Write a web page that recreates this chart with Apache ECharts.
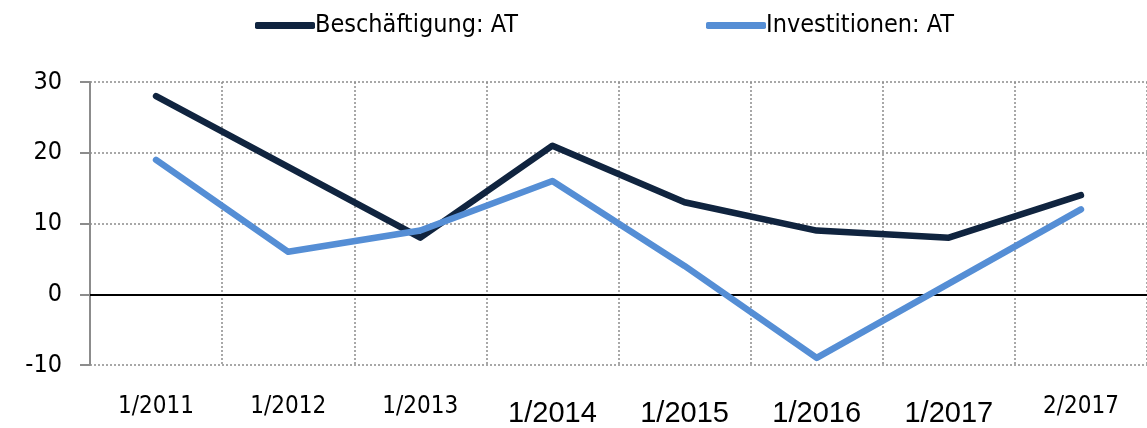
<!DOCTYPE html>
<html>
<head>
<meta charset="utf-8">
<script src="https://cdn.jsdelivr.net/npm/echarts@6/dist/echarts.min.js"></script>
<style>html,body{margin:0;padding:0;background:#fff}#c{width:1147px;height:428px}</style>
</head>
<body>
<div id="c"></div>
<script>
const categories = ['1/2011','1/2012','1/2013','1/2014','1/2015','1/2016','1/2017','2/2017'];
const largeLabels = ['1/2014','1/2015','1/2016','1/2017'];
const beschaeftigung = [28, 18, 8, 21, 13, 9, 8, 14];
const investitionen = [19, 6, 9, 16, 4, -9, 1.5, 12];
const seriesNames = ['Beschäftigung: AT', 'Investitionen: AT'];
const seriesColors = ['#10243f', '#558ed5'];

const NARROW = "'Liberation Sans Narrow','DejaVu Sans Condensed','Liberation Sans',sans-serif";
const REG = "'Liberation Sans',Arial,sans-serif";

function legendFor(i, left) {
  return {
    left: left, top: 8,
    itemWidth: 60, itemHeight: 7, itemGap: 0,
    icon: 'roundRect',
    textStyle: {fontFamily: NARROW, fontSize: 25, color: '#000', padding: [0,0,0,-5]},
    data: [seriesNames[i]]
  };
}

const chart = echarts.init(document.getElementById('c'), null, {renderer: 'canvas'});
chart.setOption({
  animation: false,
  backgroundColor: '#ffffff',
  legend: [legendFor(0, 250), legendFor(1, 701)],
  grid: {left: 90, right: -3, top: 82, bottom: 63, containLabel: false},
  xAxis: {
    type: 'category',
    data: categories,
    boundaryGap: true,
    axisLine: {onZero: true, lineStyle: {color: '#000', width: 2}},
    axisTick: {show: false},
    splitLine: {show: true, lineStyle: {color: '#8c8c8c', type: [2, 2], width: 1.5}},
    axisLabel: {
      interval: 0,
      margin: 30,
      formatter: function (v) { return largeLabels.indexOf(v) >= 0 ? '{b|' + v + '}' : '{n|' + v + '}'; },
      rich: {
        n: {fontFamily: NARROW, fontSize: 24, color: '#000'},
        b: {fontFamily: REG, fontSize: 29, color: '#000', padding: [4,0,0,0]}
      }
    }
  },
  yAxis: {
    type: 'value',
    min: -10, max: 30, interval: 10,
    axisLine: {show: true, lineStyle: {color: '#8c8c8c', width: 2}},
    axisTick: {show: true, length: 10, lineStyle: {color: '#8c8c8c', width: 2}},
    splitLine: {show: true, lineStyle: {color: '#8c8c8c', type: [2, 2], width: 1.5}},
    axisLabel: {fontFamily: NARROW, fontSize: 25, color: '#000', margin: 28}
  },
  series: [
    {name: seriesNames[0], type: 'line', data: beschaeftigung, symbol: 'none',
     lineStyle: {color: seriesColors[0], width: 6.5, cap: 'round', join: 'round'}, itemStyle: {color: seriesColors[0]}},
    {name: seriesNames[1], type: 'line', data: investitionen, symbol: 'none',
     lineStyle: {color: seriesColors[1], width: 6.5, cap: 'round', join: 'round'}, itemStyle: {color: seriesColors[1]}}
  ]
});
</script>
</body>
</html>
